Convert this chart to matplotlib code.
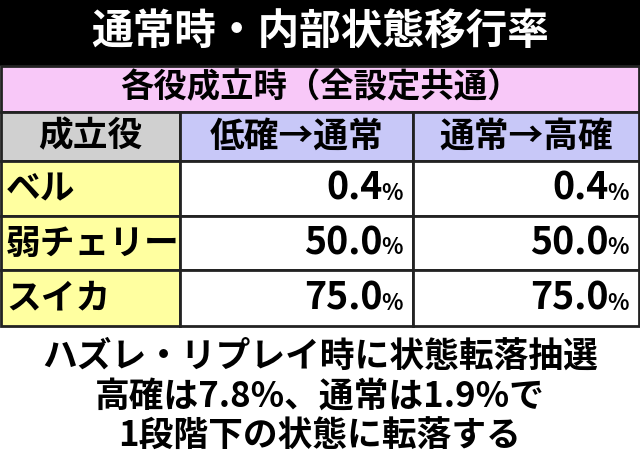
import matplotlib
matplotlib.use("Agg")
import matplotlib.pyplot as plt
from matplotlib.patches import Rectangle

plt.rcParams['font.family'] = ['Noto Sans CJK JP', 'DejaVu Sans']

title = "通常時・内部状態移行率"
subtitle = "各役成立時（全設定共通）"
headers = ["成立役", "低確→通常", "通常→高確"]
roles = ["ベル", "弱チェリー", "スイカ"]
low_to_normal = ["0.4", "50.0", "75.0"]
normal_to_high = ["0.4", "50.0", "75.0"]
notes = ["ハズレ・リプレイ時に状態転落抽選", "高確は7.8%、通常は1.9%で", "1段階下の状態に転落する"]

fig = plt.figure(figsize=(6.4, 4.66), dpi=100)
ax = fig.add_axes([0, 0, 1, 1])
ax.set_xlim(0, 640); ax.set_ylim(466, 0); ax.axis('off')

def box(x0, y0, x1, y1, fc, lw=2):
    ax.add_patch(Rectangle((x0, y0), x1 - x0, y1 - y0, facecolor=fc, edgecolor='#222222', lw=lw))

ax.add_patch(Rectangle((0, 0), 640, 66, facecolor='black', edgecolor='none'))
ax.text(320, 33, title, color='white', fontsize=30, fontweight='bold', ha='center', va='center')

box(1, 66, 639, 112, '#f8c8f8')
ax.text(320, 88, subtitle, fontsize=24, fontweight='bold', ha='center', va='center')

cols = [1, 180, 413, 639]
hcolors = ['#d0d0d0', '#c8c8f8', '#c8c8f8']
for i, h in enumerate(headers):
    box(cols[i], 112, cols[i + 1], 161, hcolors[i])
    ax.text((cols[i] + cols[i + 1]) / 2, 136, h, fontsize=25, fontweight='bold', ha='center', va='center')

rows = [161, 216, 270, 326]
for r, name in enumerate(roles):
    y0, y1 = rows[r], rows[r + 1]
    yc = (y0 + y1) / 2
    box(cols[0], y0, cols[1], y1, '#ffffa0')
    box(cols[1], y0, cols[2], y1, 'white')
    box(cols[2], y0, cols[3], y1, 'white')
    ax.text(6, yc, name, fontsize=25, fontweight='bold', ha='left', va='center')
    for c, vals in ((2, low_to_normal), (3, normal_to_high)):
        xr = cols[c] - 10
        ax.text(xr, yc + 5, "%", fontsize=16, fontweight='bold', ha='right', va='center')
        ax.text(xr - 20, yc, vals[r], fontsize=27, fontweight='bold', ha='right', va='center')

for i, t in enumerate(notes):
    ax.text(320, 356 + i * 40, t, fontsize=25, fontweight='bold', ha='center', va='center')

fig.savefig("out.png", dpi=100)
